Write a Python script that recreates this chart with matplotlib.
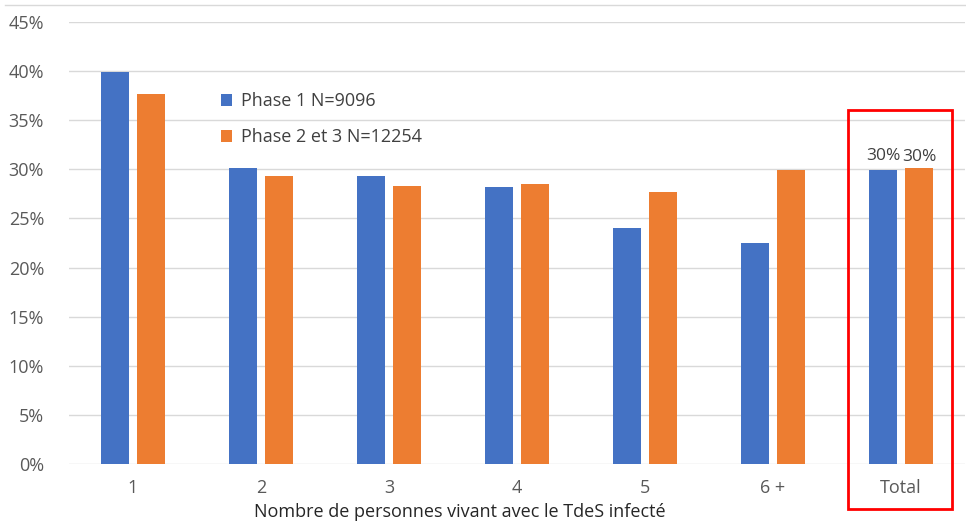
import numpy as np
import matplotlib.pyplot as plt
from matplotlib.patches import Rectangle
from matplotlib.lines import Line2D

categories = ["1", "2", "3", "4", "5", "6 +", "Total"]
phase1 = [39.9, 30.1, 29.3, 28.2, 24.0, 22.5, 29.9]
phase23 = [37.7, 29.3, 28.3, 28.5, 27.7, 29.9, 30.1]
labels = ["Phase 1 N=9096", "Phase 2 et 3 N=12254"]
total_labels = ["30%", "30%"]

blue = "#4472C4"
orange = "#ED7D31"
plt.rcParams['font.family'] = ['Open Sans', 'DejaVu Sans']

fig = plt.figure(figsize=(9.66, 5.21), dpi=100)
ax = fig.add_axes([69/966, 1-464/521, 896/966, (464-22)/521])

x = np.arange(len(categories))
w = 0.22
ax.bar(x - 0.14, phase1, w, color=blue, label=labels[0], zorder=3)
ax.bar(x + 0.14, phase23, w, color=orange, label=labels[1], zorder=3)

ax.text(x[-1] - 0.14, phase1[-1] + 0.6, total_labels[0], ha='center', va='bottom',
        fontsize=12.5, color='#404040')
ax.text(x[-1] + 0.14, phase23[-1] + 0.3, total_labels[1], ha='center', va='bottom',
        fontsize=12.5, color='#404040')

ax.set_xlim(-0.5, len(categories) - 0.5)
ax.set_ylim(0, 45)
ax.set_yticks(np.arange(0, 46, 5))
ax.set_yticklabels([f"{v}%" for v in range(0, 46, 5)])
ax.set_xticks(x)
ax.set_xticklabels(categories)
ax.tick_params(length=0, labelsize=13, labelcolor='#595959', pad=11)
ax.tick_params(axis='y', pad=18)
ax.grid(axis='y', color='#D9D9D9', linewidth=1, zorder=0)
for s in ax.spines.values():
    s.set_visible(False)
fig.text(460/966, 1-512/521, "Nombre de personnes vivant avec le TdeS infecté",
         fontsize=13, color='#262626', ha='center', va='center')

ax.legend(loc='upper left', bbox_to_anchor=(136/896, 1-54/442), frameon=False,
          fontsize=13, labelcolor='#404040', handlelength=0.6, handleheight=0.6,
          handletextpad=0.5, labelspacing=1.0)

fig.add_artist(Line2D([5/966, 1], [1-5/521, 1-5/521], color='#D9D9D9', lw=1))
fig.add_artist(Rectangle((848/966, 1-509/521), 104/966, 399/521, fill=False,
                         edgecolor='red', lw=2))

fig.savefig("out.png", dpi=100)
